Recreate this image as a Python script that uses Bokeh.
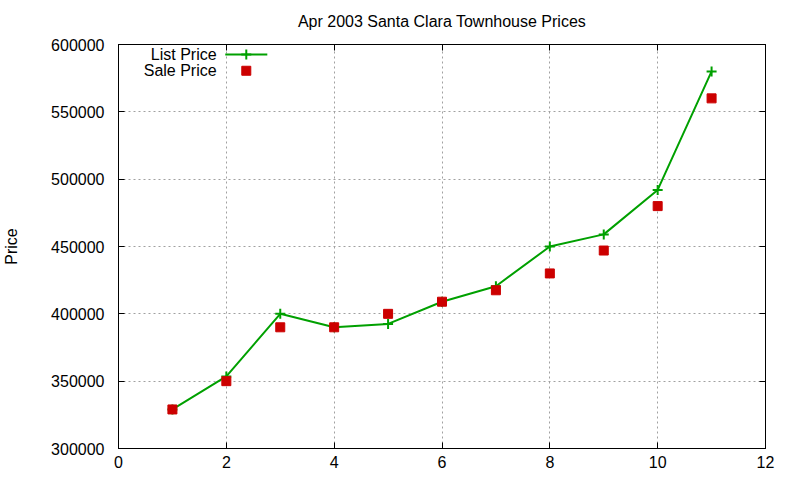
import numpy as np
from bokeh.plotting import figure
from bokeh.models import LinearAxis, Label, BasicTickFormatter, SingleIntervalTicker
from bokeh.embed import file_html
from bokeh.resources import INLINE

# values
months = [1, 2, 3, 4, 5, 6, 7, 8, 9, 10, 11]
list_price = [329000, 353500, 400000, 390000, 392500, 409000, 420500, 450000, 459000, 492000, 580000]
sale_price = [329000, 350000, 390000, 390000, 400000, 409000, 417500, 430000, 447000, 480000, 560000]

FONT = "Liberation Sans"
GREEN = "#00a000"
RED = "#cc0000"


def style_axis(ax, labels=True, standoff=10):
    ax.axis_line_color = "black"
    ax.major_tick_in = 6
    ax.major_tick_out = 0
    ax.minor_tick_line_color = None
    ax.major_label_text_font = FONT
    if labels:
        ax.major_label_text_font_size = "16px"
        ax.major_label_text_color = "black"
        ax.major_label_standoff = standoff
    else:
        ax.major_label_text_font_size = "0px"
        ax.major_label_text_color = None
        ax.major_label_standoff = 0


def main():
    p = figure(frame_width=647, frame_height=404, x_range=(0, 12), y_range=(300000, 600000),
               output_backend="svg", toolbar_location=None,
               title="Apr 2003 Santa Clara Townhouse Prices",
               min_border_left=110, min_border_right=27,
               min_border_top=37, min_border_bottom=23)
    p.background_fill_color = "white"
    p.border_fill_color = "white"
    p.outline_line_color = "black"

    p.title.align = "center"
    p.title.text_font = FONT
    p.title.text_font_size = "16px"
    p.title.text_font_style = "normal"
    p.title.text_color = "black"
    p.title.standoff = 21

    p.xaxis.ticker = SingleIntervalTicker(interval=2)
    p.yaxis.ticker = SingleIntervalTicker(interval=50000)
    p.yaxis.formatter = BasicTickFormatter(use_scientific=False)
    style_axis(p.xaxis[0], standoff=3)
    style_axis(p.yaxis[0], standoff=10)
    p.yaxis.axis_label = "Price"
    p.yaxis.axis_label_text_font = FONT
    p.yaxis.axis_label_text_font_size = "16px"
    p.yaxis.axis_label_text_font_style = "normal"
    p.yaxis.axis_label_text_color = "black"
    p.yaxis.axis_label_standoff = 28

    right = LinearAxis(ticker=SingleIntervalTicker(interval=50000))
    style_axis(right, labels=False)
    p.add_layout(right, "right")
    top = LinearAxis(ticker=SingleIntervalTicker(interval=2))
    style_axis(top, labels=False)
    p.add_layout(top, "above")

    p.grid.grid_line_color = "#a0a0a0"
    p.grid.grid_line_dash = "2 3"
    p.grid.grid_line_width = 1

    p.line(months, list_price, line_color=GREEN, line_width=2)
    p.scatter(months, list_price, marker="cross", size=10, line_color=GREEN, line_width=2)
    p.scatter(months, sale_price, marker="square", size=9, fill_color=RED, line_color=RED)

    # key, top-left inside the frame
    p.line([1.98, 2.76], [592600, 592600], line_color=GREEN, line_width=2)
    p.scatter([2.37], [592600], marker="cross", size=10, line_color=GREEN, line_width=2)
    p.scatter([2.37], [580500], marker="square", size=9, fill_color=RED, line_color=RED)
    for txt, yv in [("List Price", 592600), ("Sale Price", 580500)]:
        p.add_layout(Label(x=1.82, y=yv, text=txt, text_align="right",
                           text_baseline="middle", text_font=FONT,
                           text_font_size="16px", text_color="black"))

    open("out.html", "w").write(file_html(p, INLINE))


if __name__ == '__main__':
    main()
